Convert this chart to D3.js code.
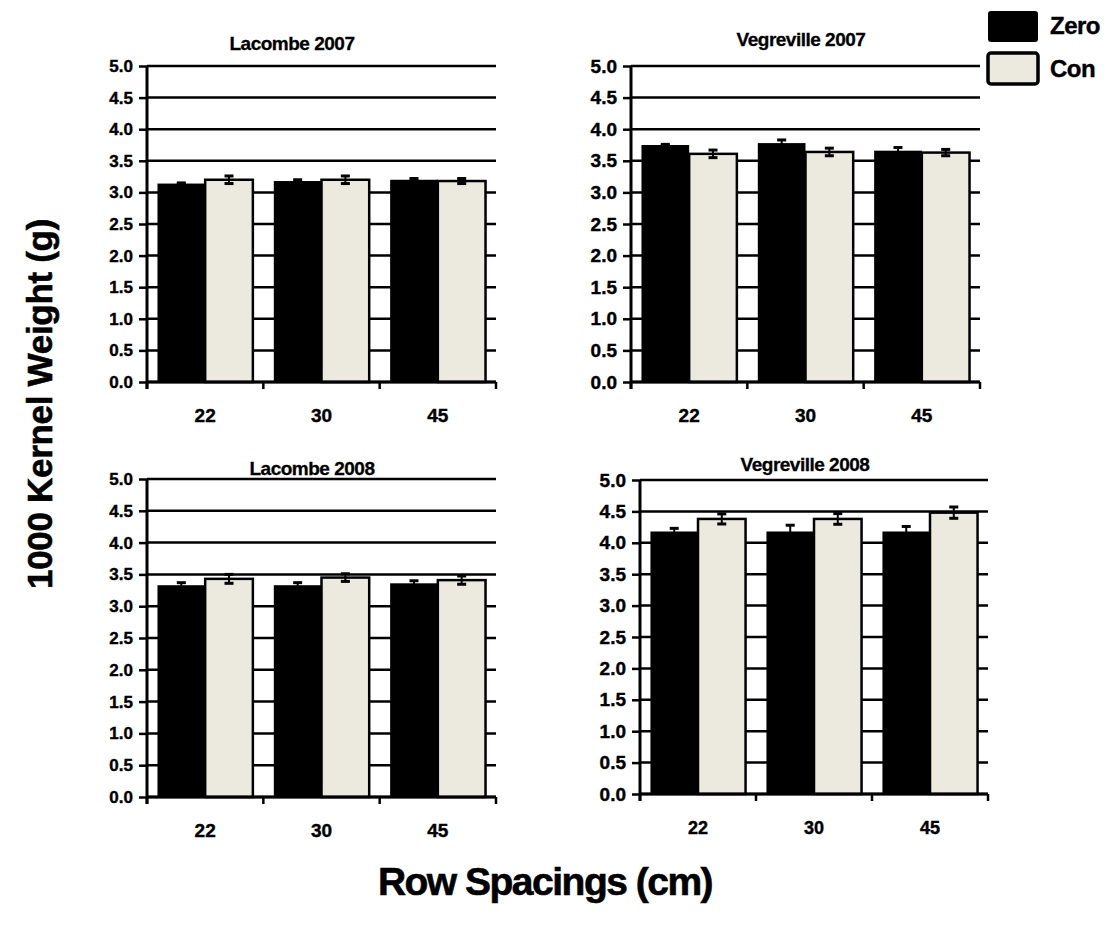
<html>
  <head>
    <style>
      body { margin: 0; background: #fff; }
      text { font-family: Arial, 'Liberation Sans', sans-serif; font-weight: bold; fill: #000; }
    </style>
  </head>
  <body>
    <script src="https://d3js.org/d3.v7.min.js"></script>
    <svg id="chart" width="1117" height="934"></svg>
    <script>
      const categories = ['22', '30', '45'];
      const seriesNames = ['Zero', 'Con'];
      const panelTitles = ['Lacombe 2007', 'Vegreville 2007', 'Lacombe 2008', 'Vegreville 2008'];
      const zeroValues = [[3.14, 3.18, 3.2], [3.75, 3.78, 3.66], [3.33, 3.33, 3.36], [4.18, 4.18, 4.18]];
      const zeroErrors = [[0.01, 0.02, 0.02], [0.01, 0.05, 0.05], [0.04, 0.04, 0.04], [0.05, 0.1, 0.08]];
      const conValues = [[3.2, 3.2, 3.18], [3.61, 3.64, 3.63], [3.43, 3.45, 3.41], [4.38, 4.38, 4.48]];
      const conErrors = [[0.06, 0.06, 0.04], [0.06, 0.06, 0.05], [0.07, 0.06, 0.065], [0.08, 0.085, 0.09]];
      const yTickValues = [0, 0.5, 1, 1.5, 2, 2.5, 3, 3.5, 4, 4.5, 5];

      const colors = { Zero: '#000', Con: '#ECE9DF' };

      // plot areas
      const panels = [
        { x: 147, y: 66, w: 349, h: 316, yFont: 17, xFont: 19, tx: 292, ty: 50 },
        { x: 631, y: 66, w: 349, h: 316, yFont: 19, xFont: 19, tx: 801, ty: 46 },
        { x: 147, y: 479, w: 349, h: 318, yFont: 17, xFont: 19, tx: 312, ty: 475 },
        { x: 640, y: 480, w: 348, h: 314, yFont: 19, xFont: 18, tx: 805, ty: 471 },
      ];

      const svg = d3.select('#chart');

      panels.forEach((p, k) => {
        const g = svg.append('g').attr('transform', `translate(${p.x},${p.y})`);

        const x0 = d3.scaleBand().domain(categories).range([0, p.w]).paddingInner(0.18).paddingOuter(0.09);
        const x1 = d3.scaleBand().domain(seriesNames).range([0, x0.bandwidth()]);
        const y = d3.scaleLinear().domain([0, 5]).range([p.h, 0]);

        // gridlines
        g.selectAll('line.grid')
          .data(yTickValues)
          .enter()
          .append('line')
          .attr('x1', 0)
          .attr('x2', p.w)
          .attr('y1', (d) => y(d))
          .attr('y2', (d) => y(d))
          .attr('stroke', '#000')
          .attr('stroke-width', 2.5);

        const rows = categories.map((c, i) => ({
          cat: c,
          bars: [
            { name: 'Zero', v: zeroValues[k][i], e: zeroErrors[k][i] },
            { name: 'Con', v: conValues[k][i], e: conErrors[k][i] },
          ],
        }));

        const groups = g.selectAll('g.cat')
          .data(rows)
          .enter()
          .append('g')
          .attr('transform', (d) => `translate(${x0(d.cat)},0)`);

        groups.selectAll('rect')
          .data((d) => d.bars)
          .enter()
          .append('rect')
          .attr('x', (d) => x1(d.name))
          .attr('y', (d) => y(d.v))
          .attr('width', x1.bandwidth())
          .attr('height', (d) => y(0) - y(d.v))
          .attr('fill', (d) => colors[d.name])
          .attr('stroke', (d) => (d.name === 'Con' ? '#000' : 'none'))
          .attr('stroke-width', 2.5);

        // error bars
        const err = groups.selectAll('g.err')
          .data((d) => d.bars)
          .enter()
          .append('g')
          .attr('stroke', '#000')
          .attr('stroke-width', 2);
        const cx = (d) => x1(d.name) + x1.bandwidth() / 2;
        err.append('line')
          .attr('x1', cx).attr('x2', cx)
          .attr('y1', (d) => y(d.v - d.e)).attr('y2', (d) => y(d.v + d.e));
        err.append('line')
          .attr('stroke-width', 3)
          .attr('x1', (d) => cx(d) - 4.5).attr('x2', (d) => cx(d) + 4.5)
          .attr('y1', (d) => y(d.v + d.e)).attr('y2', (d) => y(d.v + d.e));
        err.append('line')
          .attr('stroke-width', 3)
          .attr('x1', (d) => cx(d) - 4.5).attr('x2', (d) => cx(d) + 4.5)
          .attr('y1', (d) => y(d.v - d.e)).attr('y2', (d) => y(d.v - d.e));

        // y axis
        const yAxis = g.append('g')
          .call(d3.axisLeft(y).tickValues(yTickValues).tickFormat(d3.format('.1f')).tickSize(8).tickPadding(6));
        yAxis.select('.domain').attr('stroke-width', 3).attr('d', `M0,0V${p.h + 7}`);
        yAxis.selectAll('.tick line').attr('stroke-width', 2.5);
        yAxis.selectAll('.tick text')
          .style('font-size', p.yFont + 'px')
          .style('font-family', "Arial, 'Liberation Sans', sans-serif")
          .style('font-weight', 'bold')
          .attr('stroke', '#000')
          .attr('stroke-width', 0.4);

        // x axis: ticks at category boundaries, labels centred
        const xa = g.append('g').attr('transform', `translate(0,${p.h})`);
        xa.append('line').attr('x1', 0).attr('x2', p.w).attr('stroke', '#000').attr('stroke-width', 3);
        xa.selectAll('line.tk')
          .data(d3.range(categories.length + 1))
          .enter()
          .append('line')
          .attr('x1', (i) => i * x0.step())
          .attr('x2', (i) => i * x0.step())
          .attr('y1', 0)
          .attr('y2', 7)
          .attr('stroke', '#000')
          .attr('stroke-width', 2.5);
        xa.selectAll('text')
          .data(categories)
          .enter()
          .append('text')
          .attr('x', (d) => x0(d) + x0.bandwidth() / 2)
          .attr('y', 40)
          .attr('text-anchor', 'middle')
          .attr('stroke', '#000')
          .attr('stroke-width', 0.4)
          .style('font-size', p.xFont + 'px')
          .text((d) => d);

        svg.append('text')
          .attr('x', p.tx)
          .attr('y', p.ty)
          .attr('text-anchor', 'middle')
          .attr('stroke', '#000')
          .attr('stroke-width', 0.3)
          .style('font-size', '19px')
          .style('letter-spacing', '-0.5px')
          .text(panelTitles[k]);
      });

      // legend
      const legend = svg.append('g').attr('transform', 'translate(988,11)');
      legend.selectAll('rect')
        .data(seriesNames)
        .enter()
        .append('rect')
        .attr('x', 0)
        .attr('y', (_, i) => i * 42)
        .attr('width', 50)
        .attr('height', 31)
        .attr('rx', 3)
        .attr('fill', (d) => colors[d])
        .attr('stroke', '#000')
        .attr('stroke-width', (d) => (d === 'Con' ? 3.5 : 0));
      legend.selectAll('text')
        .data(seriesNames)
        .enter()
        .append('text')
        .attr('x', 62)
        .attr('y', (_, i) => 23 + i * 43)
        .attr('stroke', '#000')
        .attr('stroke-width', 0.4)
        .style('font-size', '24px')
        .style('letter-spacing', '-0.5px')
        .text((d) => d);

      // axis titles
      svg.append('text')
        .attr('transform', 'translate(52,404) rotate(-90)')
        .attr('text-anchor', 'middle')
        .attr('stroke', '#000')
        .attr('stroke-width', 0.6)
        .style('font-size', '35px')
        .style('letter-spacing', '-0.3px')
        .text('1000 Kernel Weight (g)');

      svg.append('text')
        .attr('x', 545)
        .attr('y', 895)
        .attr('text-anchor', 'middle')
        .attr('stroke', '#000')
        .attr('stroke-width', 0.6)
        .style('font-size', '39px')
        .style('letter-spacing', '-1.5px')
        .text('Row Spacings (cm)');
    </script>
  </body>
</html>
